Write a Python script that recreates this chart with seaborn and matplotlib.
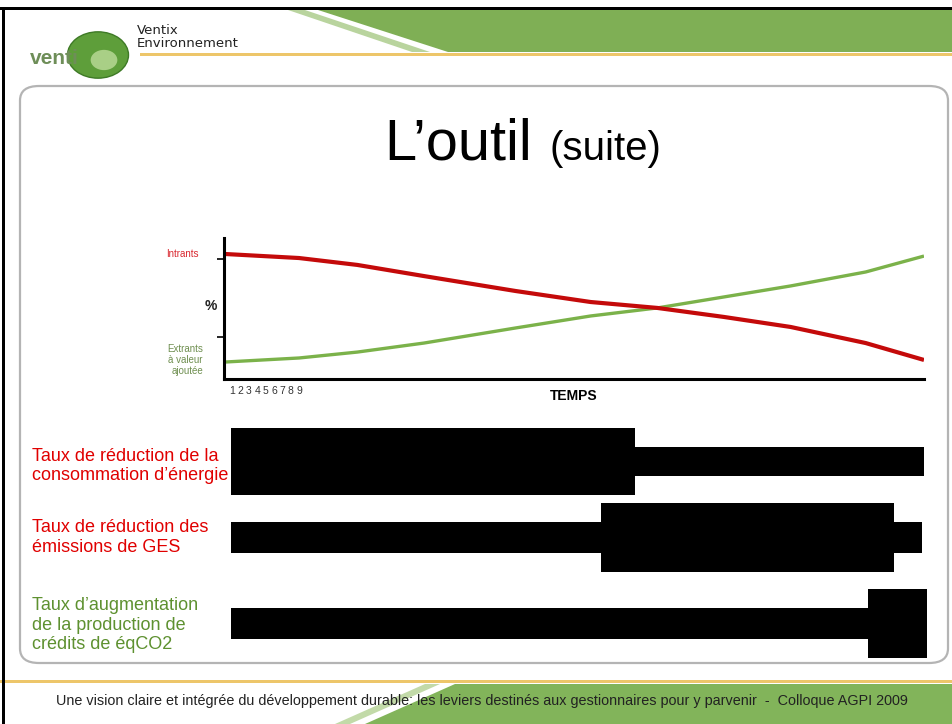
import numpy as np
import pandas as pd
import matplotlib
matplotlib.use("Agg")
import matplotlib.pyplot as plt
from matplotlib.patches import Rectangle, FancyBboxPatch, Polygon, Circle
import seaborn as sns

# ---------------- data ----------------
temps = [0, 9, 16, 24, 35, 44, 52, 60, 68, 77, 84]
intrants = [88.7, 85.8, 80.9, 73.0, 62.4, 54.6, 50.4, 44.0, 36.9, 25.5, 13.5]
extrants = [12.0, 14.9, 19.1, 25.5, 36.2, 44.7, 50.4, 58.2, 66.0, 75.9, 87.2]
tick_pos = [1, 2, 3, 4, 5, 6, 7, 8, 9]
tick_labels = ["1", "2", "3", "4", "5", "6", "7", "8", "9"]
series_names = ["Intrants", "Extrants"]

row_labels = ["Taux de réduction de la\nconsommation d’énergie",
              "Taux de réduction des\némissions de GES",
              "Taux d’augmentation\nde la production de\ncrédits de éqCO2"]
row_colors = ["#E00000", "#E00000", "#5E9130"]
thin_start = [0.0, 0.0, 0.0]
thin_end = [100.0, 99.7, 92.0]
thick_start = [0.0, 53.4, 91.9]
thick_end = [58.3, 95.7, 100.4]

# ---------------- figure ----------------
sns.set_style("white")
plt.rcParams["font.family"] = ["Liberation Sans", "DejaVu Sans"]

W, H = 953, 724
fig = plt.figure(figsize=(W / 100, H / 100), dpi=100)
fig.patch.set_facecolor("white")


def fx(px):
    return px / W


def fy(py):
    return 1 - py / H


def rect(l, t, r, b):
    return [fx(l), fy(b), fx(r) - fx(l), fy(t) - fy(b)]


Z = -5
# header banner
fig.add_artist(Polygon([(fx(318), fy(10)), (fx(953), fy(10)), (fx(953), fy(52)), (fx(448), fy(52))],
                       closed=True, transform=fig.transFigure, facecolor="#7FAF55", edgecolor="none", zorder=Z))
fig.add_artist(Polygon([(fx(288), fy(10)), (fx(305), fy(10)), (fx(430), fy(52)), (fx(412), fy(52))],
                       closed=True, transform=fig.transFigure, facecolor="#B9D49E", edgecolor="none", zorder=Z))
fig.add_artist(Rectangle((fx(140), fy(56)), fx(953) - fx(140), fy(53) - fy(56), transform=fig.transFigure,
                         facecolor="#EDC66A", edgecolor="none", zorder=Z))
# logo
fig.add_artist(Circle((fx(98), fy(55)), 0.032, transform=fig.transFigure,
                      facecolor="#5E9E3A", edgecolor="#3E7A26", lw=1, zorder=Z))
fig.add_artist(Circle((fx(104), fy(60)), 0.014, transform=fig.transFigure,
                      facecolor="#A9CF86", edgecolor="none", zorder=Z))
fig.text(fx(30), fy(58), "venti", fontsize=15, color="#6E8E58", fontweight="bold", va="center", ha="left")
fig.text(fx(137), fy(37), "Ventix\nEnvironnement", fontsize=9.5, color="#222222", va="center", ha="left",
         linespacing=1.05, family="DejaVu Sans")
# footer
fig.add_artist(Rectangle((fx(0), fy(683)), 1, fy(680) - fy(683), transform=fig.transFigure,
                         facecolor="#EDC66A", edgecolor="none", zorder=Z))
fig.add_artist(Polygon([(fx(455), fy(684)), (fx(953), fy(684)), (fx(953), fy(724)), (fx(365), fy(724))],
                       closed=True, transform=fig.transFigure, facecolor="#82B45A", edgecolor="none", zorder=Z))
fig.add_artist(Polygon([(fx(425), fy(684)), (fx(440), fy(684)), (fx(350), fy(724)), (fx(335), fy(724))],
                       closed=True, transform=fig.transFigure, facecolor="#C2DAA8", edgecolor="none", zorder=Z))
# black frame
fig.add_artist(Rectangle((fx(0), fy(10)), 1, fy(7) - fy(10), transform=fig.transFigure,
                         facecolor="black", edgecolor="none", zorder=Z))
fig.add_artist(Rectangle((fx(2), 0), fx(3), fy(7), transform=fig.transFigure,
                         facecolor="black", edgecolor="none", zorder=Z))
# content box
fig.add_artist(FancyBboxPatch((fx(20), fy(663)), fx(948) - fx(20), fy(86) - fy(663),
                              boxstyle="round,pad=0,rounding_size=0.02", transform=fig.transFigure,
                              facecolor="white", edgecolor="#B4B4B4", lw=1.6, zorder=Z))

# title
fig.text(fx(384), fy(160), "L’outil", fontsize=41.5, color="black", ha="left", va="baseline")
fig.text(fx(550), fy(160), "(suite)", fontsize=29, color="black", ha="left", va="baseline")

# ---------------- line chart ----------------
ax = fig.add_axes(rect(224, 238, 924, 379))
df = pd.DataFrame({
    "temps": temps * 2,
    "valeur": intrants + extrants,
    "serie": [series_names[0]] * len(temps) + [series_names[1]] * len(temps),
})
sns.lineplot(data=df, x="temps", y="valeur", hue="serie", palette=["#7BB24A", "#C40A0A"],
             ax=ax, legend=False, linewidth=3, hue_order=series_names[::-1])
for ln, lw in zip(ax.lines, [2.4, 3.0]):
    ln.set_linewidth(lw)
    ln.set_solid_capstyle("butt")
    ln.set_solid_joinstyle("round")
ax.set_xlim(0, 84)
ax.set_ylim(0, 100)
ax.set_xticks(tick_pos)
ax.set_xticklabels(tick_labels, fontsize=7.5, color="#333333")
ax.tick_params(axis="x", length=0, pad=5)
ax.set_yticks([30, 85])
ax.set_yticklabels(["", ""])
ax.tick_params(axis="y", length=5, width=1.2, direction="out", color="black", left=True)
for s in ["top", "right"]:
    ax.spines[s].set_visible(False)
for s in ["left", "bottom"]:
    ax.spines[s].set_linewidth(2.2)
    ax.spines[s].set_color("black")
ax.set_ylabel("")
ax.set_xlabel("TEMPS", fontsize=10, fontweight="bold", color="black")
ax.xaxis.set_label_coords(0.499, -0.07)
ax.patch.set_alpha(0)

fig.text(fx(199), fy(254), "Intrants", fontsize=7, color="#D9262E", ha="right", va="center")
fig.text(fx(211), fy(306), "%", fontsize=10, fontweight="bold", color="#222222", ha="center", va="center")
fig.text(fx(203), fy(360), "Extrants\nà valeur\najoutée", fontsize=7, color="#6F8F50", ha="right",
         va="center", linespacing=1.1, multialignment="right")

# ---------------- bar rows ----------------
row_boxes = [(428, 495), (503, 572), (589, 658)]
label_y = [466, 537.5, 625]
for i, (top, bot) in enumerate(row_boxes):
    bax = fig.add_axes(rect(231, top, 931, bot))
    bax.barh([0], [thin_end[i] - thin_start[i]], left=[thin_start[i]], height=0.44,
             color="black", edgecolor="none")
    bax.barh([0], [thick_end[i] - thick_start[i]], left=[thick_start[i]], height=1.0,
             color="black", edgecolor="none")
    bax.set_xlim(0, 101)
    bax.set_ylim(-0.5, 0.5)
    bax.axis("off")
    fig.text(fx(32), fy(label_y[i]), row_labels[i], fontsize=13, color=row_colors[i],
             ha="left", va="center", linespacing=1.2, zorder=-1)

# footer text
fig.text(fx(482), fy(701), "Une vision claire et intégrée du développement durable: les leviers destinés aux "
         "gestionnaires pour y parvenir  -  Colloque AGPI 2009", fontsize=10.4, color="#222222",
         ha="center", va="center")

fig.savefig("out.png", dpi=100)
